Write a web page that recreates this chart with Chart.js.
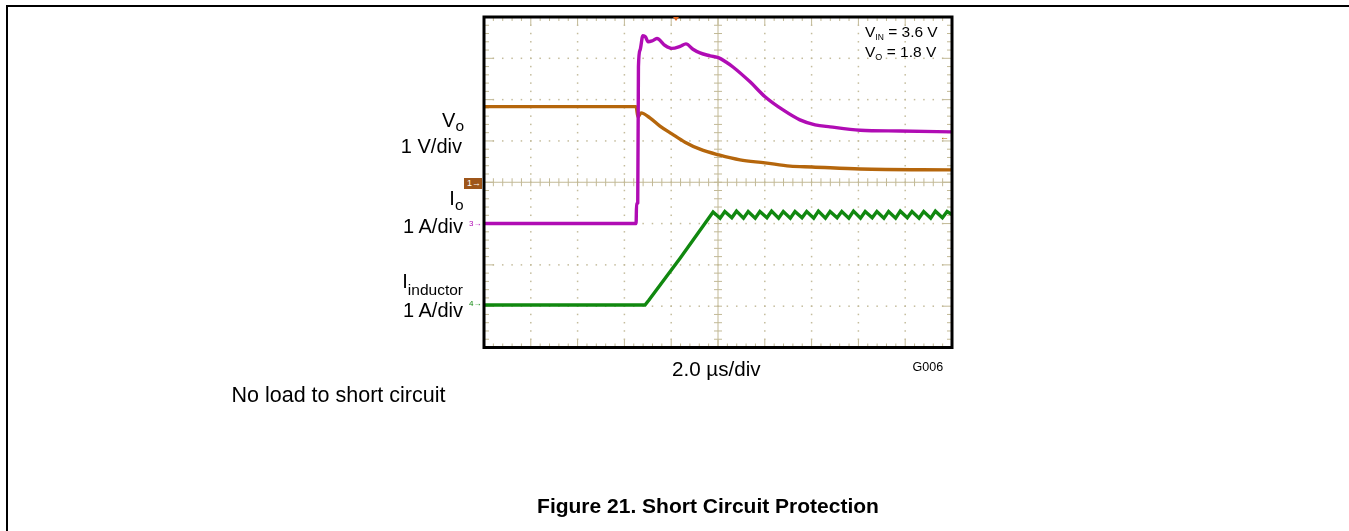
<!DOCTYPE html>
<html>
<head>
<meta charset="utf-8">
<title>Short Circuit Protection</title>
<script src="https://cdn.jsdelivr.net/npm/chart.js@4.4.0/dist/chart.umd.min.js"></script>
<style>
  html, body { margin: 0; padding: 0; background: #fff; }
  body { width: 1349px; height: 531px; position: relative; overflow: hidden; }
  #wrap { position: absolute; left: 0; top: 0; width: 1349px; height: 531px; }
  .t { position: absolute; font-family: 'Liberation Sans', Arial, sans-serif; line-height: 1; white-space: nowrap; color: #000; }
  .sub { position: relative; line-height: 0; }
  .rule { position: absolute; background: #000; }
</style>
</head>
<body>
<div class="rule" style="left:6px; top:5px; width:1343px; height:2px;"></div>
<div class="rule" style="left:6px; top:5px; width:1.5px; height:526px;"></div>

<div id="wrap"><canvas id="scopeChart"></canvas></div>

<!-- channel labels -->
<div class="t" style="right:885px; top:110.1px; font-size:20px;">V<span class="sub" style="font-size:15.5px; top:4px;">o</span></div>
<div class="t" style="right:887px; top:136.1px; font-size:20px;">1 V/div</div>
<div class="t" style="right:885.5px; top:188.1px; font-size:20px;">I<span class="sub" style="font-size:15.5px; top:5px;">o</span></div>
<div class="t" style="right:886px; top:216.1px; font-size:20px;">1 A/div</div>
<div class="t" style="right:886px; top:271.1px; font-size:20px;">I<span class="sub" style="font-size:15.5px; top:7px;">inductor</span></div>
<div class="t" style="right:886px; top:300.1px; font-size:20px;">1 A/div</div>

<div class="t" style="left:672px; top:358.6px; font-size:20.6px;">2.0 µs/div</div>
<div class="t" style="left:912.5px; top:361.1px; font-size:12.5px;">G006</div>

<div class="t" style="left:865px; top:23.6px; font-size:15.5px;">V<span class="sub" style="font-size:8.5px; top:3px;">IN</span> = 3.6 V</div>
<div class="t" style="left:865px; top:43.6px; font-size:15.5px;">V<span class="sub" style="font-size:9px; top:3px;">O</span> = 1.8 V</div>

<div class="t" style="left:231.5px; top:385.3px; font-size:21.5px;">No load to short circuit</div>
<div class="t" style="left:708px; top:495.2px; font-size:21px; font-weight:bold; transform:translateX(-50%);">Figure 21. Short Circuit Protection</div>

<!-- scope channel markers -->
<div class="t" style="left:464px; top:178px; width:18px; height:10.5px; background:#9e561a; color:#fff; font-size:9px; line-height:10.5px; padding-left:3px; box-sizing:border-box;">1→</div>
<div class="t" style="left:469px; top:219.7px; font-size:8px; color:#b00cb4;">3→</div>
<div class="t" style="left:469px; top:300.2px; font-size:8px; color:#10880f;">4→</div>
<div style="position:absolute; left:673px; top:17px; width:0; height:0; border-left:3px solid transparent; border-right:3px solid transparent; border-top:4px solid #e0641e;"></div>
<div class="t" style="left:940px; top:133px; font-size:9px; color:#b5660c;">←</div>

<script>
// time axis: 2.0 us/div, 10 divisions
const xMin = 0;
const xMax = 20;
const xDiv = 2;
// vertical: 8 divisions
const yMin = 0;
const yMax = 8;

// channel 1: Vo (V), 1 V/div
const voTime = [0, 6.50, 6.58, 6.71, 7.09, 7.52, 8.03, 8.59, 9.23, 10.04, 10.94, 12.01, 13.08, 14.02, 16.07, 20];
const voVolts = [1.83, 1.83, 1.58, 1.68, 1.56, 1.36, 1.17, 0.97, 0.80, 0.66, 0.54, 0.47, 0.39, 0.37, 0.32, 0.30];

// channel 3: Io (A), 1 A/div
const ioTime = [0, 6.50, 6.52, 6.57, 6.60, 6.67, 6.79, 6.90, 7.01, 7.18, 7.39, 7.74, 8.03, 8.38, 8.63, 8.93, 9.23, 9.66, 10.04, 10.34, 10.64, 11.37, 12.01, 12.78, 13.50, 14.15, 14.79, 16.07, 17.78, 20];
const ioAmps = [0, 0, 0.48, 0.50, 3.80, 4.20, 4.55, 4.52, 4.40, 4.42, 4.48, 4.31, 4.24, 4.29, 4.35, 4.22, 4.13, 4.06, 4.01, 3.91, 3.79, 3.43, 3.07, 2.75, 2.51, 2.39, 2.34, 2.26, 2.24, 2.22];

// channel 4: inductor current (A), 1 A/div
const ilTime = [0, 6.88, 7.05, 8.38, 9.79,
  10.09, 10.29, 10.59, 10.79, 11.09, 11.29, 11.59, 11.79, 12.09, 12.29,
  12.59, 12.79, 13.09, 13.29, 13.59, 13.79, 14.09, 14.29, 14.59, 14.79,
  15.09, 15.29, 15.59, 15.79, 16.09, 16.29, 16.59, 16.79, 17.09, 17.29,
  17.59, 17.79, 18.09, 18.29, 18.59, 18.79, 19.09, 19.29, 19.59, 19.79, 20];
const ilAmps = [0, 0, 0.12, 1.13, 2.25,
  2.10, 2.26, 2.11, 2.27, 2.10, 2.26, 2.10, 2.26, 2.11, 2.27,
  2.10, 2.26, 2.10, 2.26, 2.11, 2.26, 2.10, 2.27, 2.10, 2.26,
  2.11, 2.26, 2.10, 2.27, 2.10, 2.26, 2.11, 2.26, 2.10, 2.26,
  2.10, 2.27, 2.11, 2.26, 2.10, 2.26, 2.10, 2.27, 2.11, 2.26, 2.19];

// scope vertical settings (ground offset in divisions, units per division)
const ch1 = { offset: 4.0, perDiv: 1 };
const ch3 = { offset: 3.0, perDiv: 1 };
const ch4 = { offset: 1.03, perDiv: 1 };

function toPoints(times, values, ch) {
  return times.map((t, i) => ({ x: t, y: values[i] / ch.perDiv + ch.offset }));
}

const gridTan = '#c2b996';
const dotTan = '#c4bc9c';

const scopeGrid = {
  id: 'scopeGrid',
  beforeDatasetsDraw(chart) {
    const { ctx, chartArea: a, scales: { x, y } } = chart;
    ctx.save();
    // dotted graticule
    ctx.fillStyle = dotTan;
    for (let gx = xMin + xDiv; gx < xMax; gx += xDiv) {
      if (gx === 10) continue;
      const px = x.getPixelForValue(gx);
      for (let i = 1; i < 40; i++) {
        const py = y.getPixelForValue(i * 0.2);
        ctx.fillRect(px - 0.75, py - 0.75, 1.5, 1.5);
      }
    }
    for (let gy = yMin + 1; gy < yMax; gy++) {
      if (gy === 4) continue;
      const py = y.getPixelForValue(gy);
      for (let i = 1; i < 50; i++) {
        const px = x.getPixelForValue(i * 0.4);
        ctx.fillRect(px - 0.75, py - 0.75, 1.5, 1.5);
      }
    }
    // centre axes with minor ticks
    ctx.strokeStyle = gridTan;
    ctx.lineWidth = 1;
    const cx = x.getPixelForValue(10);
    const cy = y.getPixelForValue(4);
    ctx.beginPath();
    ctx.moveTo(a.left, cy); ctx.lineTo(a.right, cy);
    ctx.moveTo(cx, a.top); ctx.lineTo(cx, a.bottom);
    for (let i = 1; i < 50; i++) {
      const px = x.getPixelForValue(i * 0.4);
      ctx.moveTo(px, cy - 4); ctx.lineTo(px, cy + 4);
      const major = i % 5 === 0;
      ctx.moveTo(px, a.top); ctx.lineTo(px, a.top + (major ? 8 : 4));
      ctx.moveTo(px, a.bottom); ctx.lineTo(px, a.bottom - (major ? 8 : 4));
    }
    for (let i = 1; i < 40; i++) {
      const py = y.getPixelForValue(i * 0.2);
      ctx.moveTo(cx - 4, py); ctx.lineTo(cx + 4, py);
      const major = i % 5 === 0;
      ctx.moveTo(a.left, py); ctx.lineTo(a.left + (major ? 10 : 5), py);
      ctx.moveTo(a.right, py); ctx.lineTo(a.right - (major ? 10 : 5), py);
    }
    ctx.stroke();
    ctx.restore();
  },
  afterDatasetsDraw(chart) {
    const { ctx, chartArea: a } = chart;
    ctx.save();
    ctx.strokeStyle = '#000';
    ctx.lineWidth = 3;
    ctx.strokeRect(a.left, a.top, a.right - a.left, a.bottom - a.top);
    ctx.restore();
  },
};

const ctx = document.getElementById('scopeChart');
const chart = new Chart(ctx, {
  type: 'line',
  data: {
    datasets: [
      { label: 'Io', data: toPoints(ioTime, ioAmps, ch3), borderColor: '#b00cb4', borderWidth: 3.4, pointRadius: 0, cubicInterpolationMode: 'monotone' },
      { label: 'Vo', data: toPoints(voTime, voVolts, ch1), borderColor: '#b5660c', borderWidth: 3.4, pointRadius: 0, cubicInterpolationMode: 'monotone' },
      { label: 'Iinductor', data: toPoints(ilTime, ilAmps, ch4), borderColor: '#10880f', borderWidth: 3.4, pointRadius: 0, tension: 0 },
    ],
  },
  options: {
    responsive: true,
    maintainAspectRatio: false,
    animation: false,
    events: [],
    layout: { padding: { left: 484, top: 17, right: 397, bottom: 183.5 } },
    plugins: { legend: { display: false }, tooltip: { enabled: false } },
    scales: {
      x: { type: 'linear', min: xMin, max: xMax, display: false },
      y: { type: 'linear', min: yMin, max: yMax, display: false },
    },
  },
  plugins: [scopeGrid],
});
</script>
</body>
</html>
